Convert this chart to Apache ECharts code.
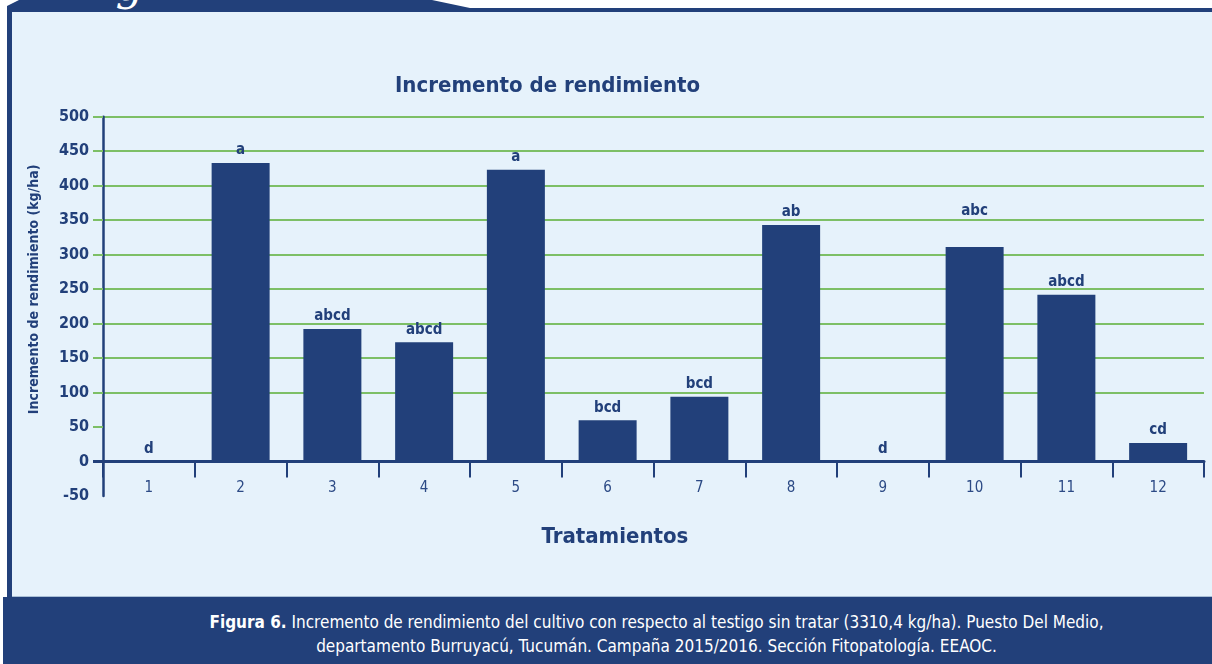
<!DOCTYPE html>
<html>
<head>
<meta charset="utf-8">
<script src="https://cdn.jsdelivr.net/npm/echarts@6/dist/echarts.min.js"></script>
<style>
  html, body { margin:0; padding:0; width:1212px; height:664px; overflow:hidden; background:#ffffff; }
  #frame { position:absolute; left:0; top:0; width:1212px; height:664px; }
  .panel { position:absolute; left:12px; top:12px; width:1200px; height:585px; background:#e6f2fb; }
  .leftbar { position:absolute; left:7px; top:6px; width:5px; height:592px; background:#22407a; }
  .toptab { position:absolute; left:7px; top:0; width:463px; height:12px; background:#22407a;
            clip-path: polygon(0 6px, 12px 0, 425px 0, 463px 8px, 463px 12px, 0 12px); overflow:hidden; }
  .topbar { position:absolute; left:460px; top:8px; width:752px; height:4px; background:#22407a; }
  .tabtext { position:absolute; left:64px; top:-41px; color:#fff; font: italic 44px "DejaVu Serif", serif; white-space:nowrap; }
  .sep { position:absolute; left:12px; top:596px; width:1200px; height:1px; background:#a9bfd6; }
  .caption { position:absolute; left:3px; top:597px; width:1209px; height:67px; background:#22407a;
             color:#ffffff; text-align:center; font: 17px "Liberation Sans Narrow", "DejaVu Sans Condensed", sans-serif; line-height:24px; padding-top:13px; padding-left:98px; box-sizing:border-box; }
  .caption b { font-weight:bold; }
  #chart { position:absolute; left:0; top:0; width:1212px; height:664px; }
</style>
</head>
<body>
<div id="frame">
  <div class="panel"></div>
  <div class="toptab"><span class="tabtext">Fig</span></div>
  <div class="topbar"></div>
  <div class="leftbar"></div>
  <div class="sep"></div>
  <div class="caption"><b>Figura 6.</b> Incremento de rendimiento del cultivo con respecto al testigo sin tratar (3310,4 kg/ha). Puesto Del Medio,<br>departamento Burruyacú, Tucumán. Campaña 2015/2016. Sección Fitopatología. EEAOC.</div>
</div>
<div id="chart"></div>
<script>
// ---- data ----
const categories = ['1','2','3','4','5','6','7','8','9','10','11','12'];
const values = [0, 433, 192, 173, 423, 60, 94, 343, 0, 311, 242, 27];
const letters = ['d','a','abcd','abcd','a','bcd','bcd','ab','d','abc','abcd','cd'];
const yTicks = [50, 100, 150, 200, 250, 300, 350, 400, 450, 500];

const NAVY = '#22407a';
const GREEN = '#7dbf66';
const FONT = '"Liberation Sans Narrow", "DejaVu Sans Condensed", sans-serif';

const chart = echarts.init(document.getElementById('chart'), null, {renderer:'canvas'});

const data = values.map((v, i) => {
  const item = { value: v };
  if (i === 9) item.label = { offset: [0, -23] };
  return item;
});

chart.setOption({
  backgroundColor: 'transparent',
  animation: false,
  title: {
    text: 'Incremento de rendimiento',
    left: 390, top: 70,
    textStyle: { fontFamily: FONT, fontSize: 22, fontWeight: 'bold', color: NAVY }
  },
  grid: { left: 103, right: 8, top: 116.7, bottom: 168, containLabel: false },
  xAxis: {
    type: 'category',
    data: categories,
    axisLine: { onZero: true, lineStyle: { color: NAVY, width: 3 } },
    axisTick: { show: true, length: 16, lineStyle: { color: NAVY, width: 2 },
                interval: 0 },
    axisLabel: { color: '#2c4a85', fontFamily: FONT, fontSize: 15, margin: -15 },
    name: 'Tratamientos',
    nameLocation: 'middle',
    nameGap: 30,
    nameTextStyle: { fontFamily: FONT, fontSize: 22, fontWeight: 'bold', color: NAVY, padding: [0, 77, 0, 0] },
    splitLine: { show: false }
  },
  yAxis: [{
    type: 'value',
    min: -50, max: 500, interval: 50,
    axisLine: { show: true, onZero: false, lineStyle: { color: NAVY, width: 2.5 } },
    axisTick: { show: true, length: 10, lineStyle: { color: GREEN, width: 2 }, customValues: yTicks },
    axisLabel: { color: NAVY, fontFamily: FONT, fontSize: 16, fontWeight: 'bold', margin: 14 },
    splitLine: { show: true, showMinLine: false, lineStyle: { color: GREEN, width: 2 } },
    name: 'Incremento de rendimiento (kg/ha)',
    nameLocation: 'middle',
    nameGap: 62,
    nameRotate: 90,
    nameTextStyle: { fontFamily: FONT, fontSize: 14, fontWeight: 'bold', color: NAVY, padding: [0, 0, 0, 34] }
  }, {
    type: 'value',
    position: 'left',
    min: -50, max: 500, interval: 50,
    axisLine: { show: false },
    axisTick: { show: true, length: 10, lineStyle: { color: NAVY, width: 3 }, customValues: [0] },
    axisLabel: { show: false },
    splitLine: { show: false }
  }],
  series: [{
    type: 'bar',
    data: data,
    barWidth: 58,
    itemStyle: { color: NAVY },
    label: {
      show: true,
      position: 'top',
      distance: 5,
      formatter: p => letters[p.dataIndex],
      fontFamily: FONT, fontSize: 15, fontWeight: 'bold', color: NAVY
    }
  }]
});
</script>
</body>
</html>
